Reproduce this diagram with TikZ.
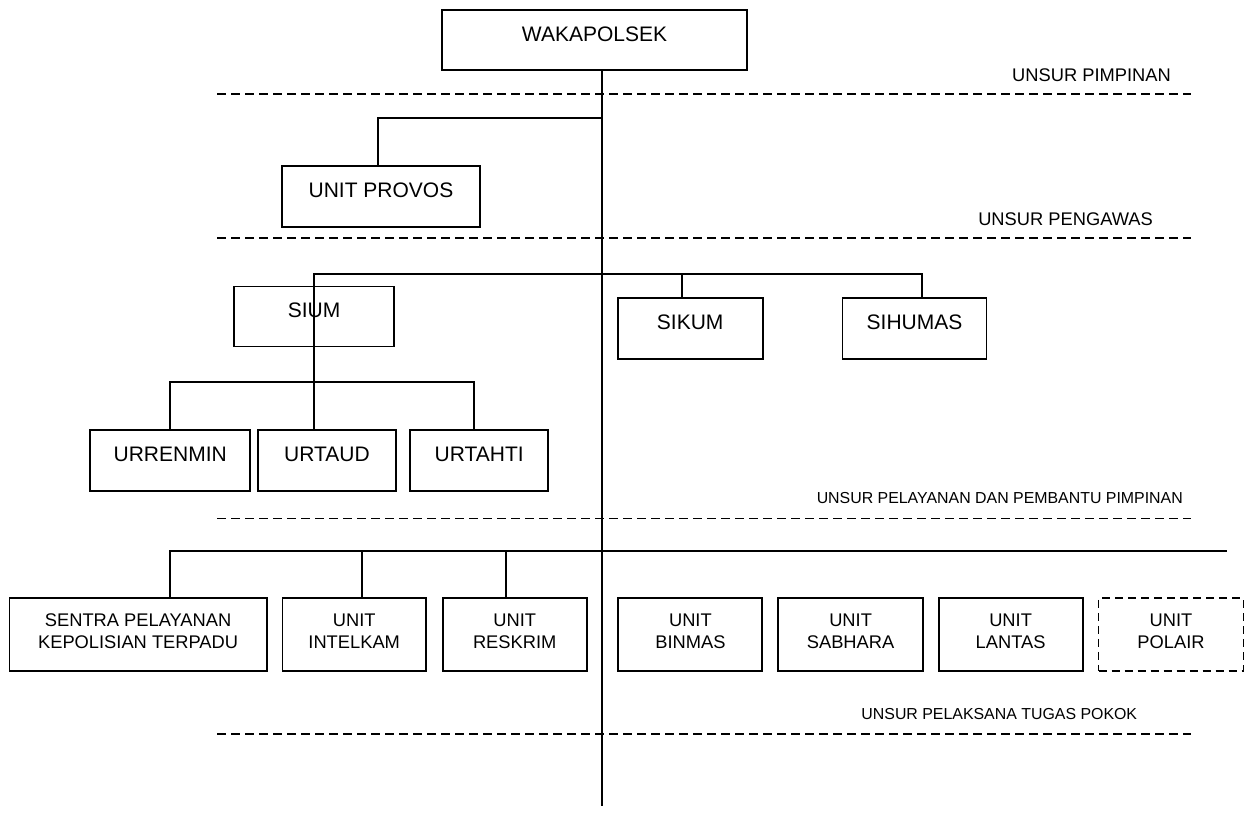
\documentclass[tikz,border=0pt]{standalone}
\usepackage{fontspec}
\setmainfont{Liberation Sans}
\begin{document}
\begin{tikzpicture}[x=1pt,y=-1pt,
  box/.style={draw, line width=1.9pt, inner sep=0pt, font=\fontsize{21}{25}\selectfont, text height=15pt, text depth=13pt},
  ubox/.style={draw, line width=1.9pt, inner sep=0pt, align=center, font=\fontsize{18.3}{22.4}\selectfont, minimum height=72.4pt, text depth=7pt},
  conn/.style={line width=1.9pt},
  sepline/.style={line width=1.9pt, dash pattern=on 9pt off 5pt},
  lab/.style={inner sep=0pt, anchor=base east, font=\fontsize{18.3}{22}\selectfont},
  slab/.style={inner sep=0pt, anchor=base east, font=\fontsize{15.9}{19}\selectfont}]
\useasboundingbox (0,0) rectangle (1248,812);

% boxes
\node[box, minimum width=305pt, minimum height=60pt] (wak) at (594.5,40) {WAKAPOLSEK};
\node[box, minimum width=198pt, minimum height=61pt] (provos) at (381,196.5) {UNIT PROVOS};
\node[box, minimum width=160pt, minimum height=60pt] (sium) at (314,316.5) {SIUM};
\node[box, minimum width=145pt, minimum height=61pt] (sikum) at (690.2,328.2) {SIKUM};
\node[box, minimum width=144pt, minimum height=61pt] (sihumas) at (914.5,328.2) {SIHUMAS};
\node[box, minimum width=160pt, minimum height=60.4pt] (urrenmin) at (170.2,460.5) {URRENMIN};
\node[box, minimum width=138pt, minimum height=60.4pt] (urtaud) at (327,460.5) {URTAUD};
\node[box, minimum width=138.3pt, minimum height=60.4pt] (urtahti) at (479.2,460.5) {URTAHTI};

\node[ubox, minimum width=257.2pt] (sentra) at (138.1,634.5) {SENTRA PELAYANAN\\KEPOLISIAN TERPADU};
\node[ubox, minimum width=143.5pt] (intelkam) at (354.2,634.5) {UNIT\\INTELKAM};
\node[ubox, minimum width=144pt] (reskrim) at (514.7,634.5) {UNIT\\RESKRIM};
\node[ubox, minimum width=144pt] (binmas) at (690.4,634.5) {UNIT\\BINMAS};
\node[ubox, minimum width=145pt] (sabhara) at (850.6,634.5) {UNIT\\SABHARA};
\node[ubox, minimum width=144pt] (lantas) at (1010.6,634.5) {UNIT\\LANTAS};
\node[ubox, minimum width=145pt, dash pattern=on 8pt off 5pt] (polair) at (1171,634.5) {UNIT\\POLAIR};

% junction coordinates
\coordinate (trunkend) at (602,806);
\coordinate (j1) at (602,118.3);
\coordinate (bus1) at (602,274);
\coordinate (bus2) at (314,382.3);
\coordinate (bus3) at (1227,551);

% connectors
\draw[conn] ([xshift=7.5pt]wak.south) -- (trunkend);
\draw[conn] (j1) -| ([xshift=-2.7pt]provos.north);
\draw[conn] (urtaud.north -| sium.center) -- (sium.center |- bus1) -- ([xshift=7.8pt]sihumas.north |- bus1) -- ([xshift=7.8pt]sihumas.north);
\draw[conn] ([xshift=-7.9pt]sikum.north) -- ([xshift=-7.9pt]sikum.north |- bus1);
\draw[conn] (urrenmin.north) |- (bus2) -| ([xshift=-4.9pt]urtahti.north);
\draw[conn] ([xshift=31.8pt]sentra.north) |- (bus3);
\draw[conn] ([xshift=8.1pt]intelkam.north) -- ([xshift=8.1pt]intelkam.north |- bus3);
\draw[conn] ([xshift=-8.3pt]reskrim.north) -- ([xshift=-8.3pt]reskrim.north |- bus3);

% separators
\draw[sepline] (217,94) -- (1191,94);
\draw[sepline] (217,237.8) -- (1191,237.8);
\draw[sepline] (217,518.5) -- (1191,518.5);
\draw[sepline] (217,734) -- (1191,734);

% labels
\node[lab] (l1) at (1171,81.4) {UNSUR PIMPINAN};
\node[lab] (l2) at (1153,225.6) {UNSUR PENGAWAS};
\node[slab] (l3) at (1183,503.7) {UNSUR PELAYANAN DAN PEMBANTU PIMPINAN};
\node[slab] (l4) at (1137.3,719.7) {UNSUR PELAKSANA TUGAS POKOK};
\end{tikzpicture}
\end{document}
